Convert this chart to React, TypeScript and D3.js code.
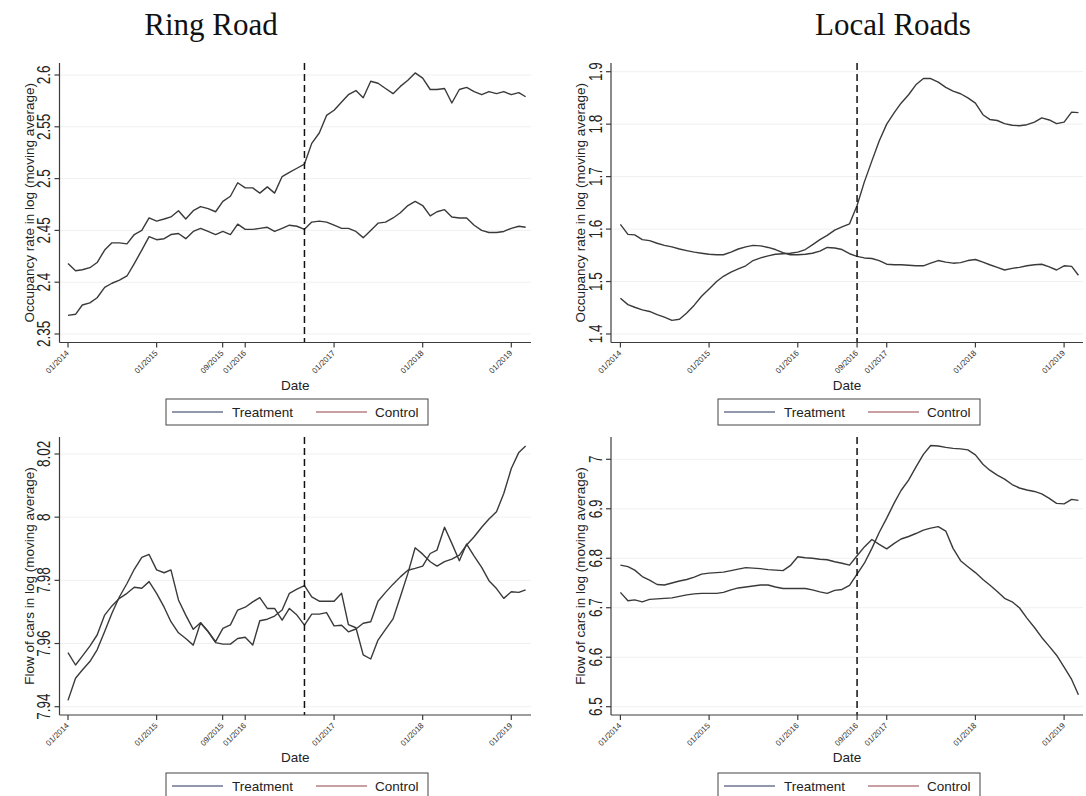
import React from 'react';
import * as d3 from 'd3';

// ---------- DATA ----------
const startMonth = new Date(2014, 0, 1);
const nMonths = 63; // 01/2014 .. 03/2019

const ringOccTreat = [2.418,2.411,2.412,2.414,2.419,2.431,2.438,2.438,2.437,2.446,
  2.450,2.462,2.459,2.461,2.463,2.469,2.461,2.469,2.473,2.471,
  2.468,2.478,2.483,2.496,2.491,2.491,2.486,2.492,2.486,2.502,
  2.506,2.510,2.514,2.534,2.544,2.561,2.566,2.574,2.581,2.585,
  2.578,2.594,2.592,2.587,2.582,2.589,2.595,2.602,2.597,2.586,
  2.586,2.587,2.573,2.586,2.588,2.584,2.581,2.584,2.582,2.584,
  2.581,2.583,2.579];
const ringOccCtrl = [2.368,2.369,2.378,2.380,2.385,2.395,2.399,2.402,2.406,2.418,
  2.431,2.444,2.441,2.442,2.446,2.447,2.442,2.449,2.452,2.449,
  2.446,2.449,2.446,2.456,2.451,2.451,2.452,2.453,2.449,2.452,
  2.455,2.454,2.451,2.458,2.459,2.458,2.455,2.452,2.452,2.449,
  2.443,2.450,2.457,2.458,2.462,2.467,2.474,2.478,2.474,2.464,
  2.468,2.470,2.463,2.462,2.462,2.455,2.450,2.448,2.448,2.449,
  2.452,2.454,2.453];
const localOccTreat = [1.468,1.456,1.451,1.446,1.443,1.437,1.432,1.426,1.428,1.440,
  1.455,1.472,1.486,1.500,1.510,1.518,1.524,1.530,1.540,1.545,
  1.549,1.552,1.553,1.554,1.556,1.561,1.570,1.580,1.588,1.598,
  1.604,1.610,1.645,1.690,1.730,1.768,1.800,1.822,1.840,1.856,
  1.875,1.887,1.887,1.880,1.870,1.863,1.858,1.850,1.840,1.818,
  1.809,1.807,1.801,1.798,1.797,1.799,1.804,1.812,1.808,1.801,
  1.804,1.823,1.822];
const localOccCtrl = [1.609,1.590,1.589,1.580,1.578,1.573,1.569,1.566,1.562,1.559,
  1.556,1.554,1.552,1.551,1.551,1.556,1.562,1.566,1.569,1.568,
  1.565,1.561,1.555,1.551,1.551,1.552,1.554,1.558,1.565,1.564,
  1.561,1.553,1.548,1.545,1.544,1.540,1.533,1.532,1.532,1.531,
  1.530,1.530,1.535,1.540,1.537,1.535,1.536,1.540,1.542,1.537,
  1.532,1.527,1.522,1.525,1.527,1.530,1.532,1.533,1.528,1.522,
  1.530,1.529,1.512];
const ringFlowTreat = [7.9571,7.9532,7.956,7.9592,7.9627,7.969,7.9719,7.9743,7.9759,7.9778,
  7.9775,7.9796,7.9759,7.9715,7.9669,7.9634,7.9616,7.9595,7.9666,7.9638,
  7.9603,7.9598,7.9598,7.9616,7.962,7.9595,7.9672,7.9677,7.9687,7.9706,
  7.9759,7.9772,7.9783,7.9748,7.9734,7.9734,7.9734,7.9759,7.966,7.965,
  7.9564,7.9551,7.9611,7.9645,7.9678,7.9748,7.9822,7.9903,7.9883,7.9859,
  7.9845,7.9859,7.9867,7.988,7.9912,7.9938,7.9968,7.9994,8.0017,8.0075,
  8.0154,8.0205,8.0225];
const ringFlowCtrl = [7.942,7.949,7.9516,7.9543,7.958,7.9638,7.9696,7.9748,7.979,7.9835,
  7.9873,7.9882,7.9833,7.9824,7.9833,7.9738,7.969,7.9645,7.9666,7.9638,
  7.9606,7.9648,7.9659,7.9706,7.9715,7.9732,7.9745,7.9711,7.9711,7.9674,
  7.9711,7.969,7.9658,7.9693,7.9693,7.9698,7.9656,7.9658,7.9637,7.9646,
  7.9664,7.9669,7.9734,7.9762,7.9788,7.9811,7.9832,7.9838,7.9845,7.9885,
  7.9896,7.9968,7.9917,7.9862,7.9915,7.9877,7.9841,7.9799,7.9774,7.9743,
  7.9764,7.9762,7.977];
const localFlowTreat = [6.731,6.714,6.716,6.712,6.717,6.718,6.719,6.720,6.723,6.726,
  6.728,6.729,6.729,6.729,6.731,6.736,6.740,6.742,6.744,6.746,
  6.746,6.742,6.739,6.739,6.739,6.739,6.736,6.732,6.729,6.735,
  6.737,6.745,6.768,6.790,6.820,6.852,6.881,6.912,6.937,6.958,
  6.984,7.010,7.028,7.027,7.024,7.022,7.021,7.019,7.009,6.990,
  6.978,6.968,6.960,6.949,6.942,6.938,6.935,6.930,6.921,6.911,
  6.910,6.919,6.917];
const localFlowCtrl = [6.786,6.783,6.776,6.763,6.756,6.747,6.746,6.750,6.754,6.757,
  6.762,6.768,6.770,6.771,6.772,6.775,6.778,6.781,6.780,6.779,
  6.777,6.776,6.775,6.785,6.803,6.801,6.800,6.798,6.797,6.793,
  6.790,6.786,6.805,6.823,6.838,6.828,6.819,6.830,6.839,6.844,
  6.850,6.857,6.861,6.864,6.855,6.820,6.795,6.783,6.771,6.757,
  6.746,6.733,6.719,6.712,6.700,6.679,6.660,6.640,6.622,6.604,
  6.580,6.555,6.524];

const ringOccTicks = [2.35, 2.4, 2.45, 2.5, 2.55, 2.6];
const ringOccTickLabels = ['2.35', '2.4', '2.45', '2.5', '2.55', '2.6'];
const localOccTicks = [1.4, 1.5, 1.6, 1.7, 1.8, 1.9];
const localOccTickLabels = ['1.4', '1.5', '1.6', '1.7', '1.8', '1.9'];
const ringFlowTicks = [7.94, 7.96, 7.98, 8.0, 8.02];
const ringFlowTickLabels = ['7.94', '7.96', '7.98', '8', '8.02'];
const localFlowTicks = [6.5, 6.6, 6.7, 6.8, 6.9, 7.0];
const localFlowTickLabels = ['6.5', '6.6', '6.7', '6.8', '6.9', '7'];

const ringXTicks = [new Date(2014,0,1), new Date(2015,0,1), new Date(2015,8,30), new Date(2016,0,1), new Date(2017,0,1), new Date(2018,0,1), new Date(2019,0,1)];
const ringXTickLabels = ['01/2014','01/2015','09/2015','01/2016','01/2017','01/2018','01/2019'];
const localXTicks = [new Date(2014,0,1), new Date(2015,0,1), new Date(2016,0,1), new Date(2016,8,1), new Date(2017,0,1), new Date(2018,0,1), new Date(2019,0,1)];
const localXTickLabels = ['01/2014','01/2015','01/2016','09/2016','01/2017','01/2018','01/2019'];

const policyDate = new Date(2016, 8, 1);
const xDomain = [new Date(2014,0,1), new Date(2019,0,1)];
const seriesNames = ['Treatment', 'Control'];
const titles = ['Ring Road', 'Local Roads'];
const yTitles = ['Occupancy rate in log (moving average)', 'Flow of cars in log (moving average)'];

// ---------- LAYOUT ----------
const SANS = '"Liberation Sans", Arial, Helvetica, sans-serif';
const SERIF = '"Liberation Serif", "DejaVu Serif", serif';
const LINE = '#3a3a3a';
const AX = '#3c3c3c';

const dates = d3.range(nMonths).map(i => d3.timeMonth.offset(startMonth, i));

type PanelCfg = {
  treat: number[]; ctrl: number[];
  yTicks: number[]; yTickLabels: string[]; yDom: [number, number]; yRng: [number, number];
  xTicks: Date[]; xTickLabels: string[]; xRng: [number, number];
  axisX: number; right: number; top: number; bottom: number;
  yTitle: string; tickLabelX: number; titleX: number;
  legendX: number; legendY: number;
};

const panels: PanelCfg[] = [
  { treat: ringOccTreat, ctrl: ringOccCtrl, yTicks: ringOccTicks, yTickLabels: ringOccTickLabels,
    yDom: [2.35, 2.6], yRng: [334, 75], xTicks: ringXTicks, xTickLabels: ringXTickLabels, xRng: [68, 511.3],
    axisX: 59.5, right: 531, top: 63, bottom: 342.5, yTitle: yTitles[0], tickLabelX: 43.5, titleX: 29.5,
    legendX: 166, legendY: 399 },
  { treat: localOccTreat, ctrl: localOccCtrl, yTicks: localOccTicks, yTickLabels: localOccTickLabels,
    yDom: [1.4, 1.9], yRng: [334, 71.7], xTicks: localXTicks, xTickLabels: localXTickLabels, xRng: [620.4, 1064.1],
    axisX: 611, right: 1083, top: 63, bottom: 342.5, yTitle: yTitles[0], tickLabelX: 595, titleX: 580.5,
    legendX: 718, legendY: 399 },
  { treat: ringFlowTreat, ctrl: ringFlowCtrl, yTicks: ringFlowTicks, yTickLabels: ringFlowTickLabels,
    yDom: [7.94, 8.02], yRng: [706.7, 454], xTicks: ringXTicks, xTickLabels: ringXTickLabels, xRng: [68, 511.3],
    axisX: 59.5, right: 531, top: 437, bottom: 715, yTitle: yTitles[1], tickLabelX: 43.5, titleX: 29.5,
    legendX: 166, legendY: 773 },
  { treat: localFlowTreat, ctrl: localFlowCtrl, yTicks: localFlowTicks, yTickLabels: localFlowTickLabels,
    yDom: [6.5, 7.0], yRng: [706.7, 459.3], xTicks: localXTicks, xTickLabels: localXTickLabels, xRng: [620.4, 1064.1],
    axisX: 611, right: 1083, top: 437, bottom: 715, yTitle: yTitles[1], tickLabelX: 595, titleX: 580.5,
    legendX: 718, legendY: 773 },
];

function Panel({ p }: { p: PanelCfg }) {
  const x = d3.scaleTime().domain(xDomain).range(p.xRng);
  const y = d3.scaleLinear().domain(p.yDom).range(p.yRng);
  const line = d3.line<number>().x((_, i) => x(dates[i])).y(v => y(v));
  const cx = (p.axisX + p.right) / 2;
  const cy = (p.top + p.bottom) / 2;
  const lx = p.legendX, ly = p.legendY;
  return (
    <g>
      {p.yTicks.map((t, i) => (
        <line key={'g' + i} x1={p.axisX} x2={p.right} y1={y(t)} y2={y(t)} stroke="#f0f0f0" strokeWidth={1} />
      ))}
      <path d={line(p.treat) || ''} fill="none" stroke={LINE} strokeWidth={1.4} strokeLinejoin="round" />
      <path d={line(p.ctrl) || ''} fill="none" stroke={LINE} strokeWidth={1.4} strokeLinejoin="round" />
      <line x1={x(policyDate)} x2={x(policyDate)} y1={p.top} y2={p.bottom} stroke="#111" strokeWidth={1.5} strokeDasharray="7,4" />
      {/* axes */}
      <line x1={p.axisX} x2={p.axisX} y1={p.top} y2={p.bottom} stroke={AX} strokeWidth={1.2} />
      <line x1={p.axisX} x2={p.right} y1={p.bottom} y2={p.bottom} stroke={AX} strokeWidth={1.2} />
      {p.yTicks.map((t, i) => (
        <g key={'y' + i}>
          <line x1={p.axisX - 5} x2={p.axisX} y1={y(t)} y2={y(t)} stroke={AX} strokeWidth={1.2} />
          <text transform={`translate(${p.tickLabelX},${y(t)}) rotate(-90) scale(1,1.35)`} textAnchor="middle" dy="0.36em"
            fontFamily={SANS} fontSize={13.5} fill="#222">{p.yTickLabels[i]}</text>
        </g>
      ))}
      {p.xTicks.map((t, i) => (
        <g key={'x' + i}>
          <line x1={x(t)} x2={x(t)} y1={p.bottom} y2={p.bottom + 5} stroke={AX} strokeWidth={1.2} />
          <text transform={`translate(${x(t) + 1.5},${p.bottom + 11}) rotate(-45)`} textAnchor="end"
            fontFamily={SANS} fontSize={8} fill="#333">{p.xTickLabels[i]}</text>
        </g>
      ))}
      <text transform={`translate(${p.titleX},${cy}) rotate(-90)`} textAnchor="middle" dy="0.36em"
        fontFamily={SANS} fontSize={13.5} fill="#222">{p.yTitle}</text>
      <text x={cx} y={p.bottom + 47} textAnchor="middle" fontFamily={SANS} fontSize={13.5} fill="#222">Date</text>
      {/* legend */}
      <rect x={lx} y={ly} width={262} height={26} fill="#fff" stroke="#444" strokeWidth={1} />
      <line x1={lx + 6} x2={lx + 57} y1={ly + 13} y2={ly + 13} stroke="#27305e" strokeWidth={1.2} />
      <text x={lx + 66} y={ly + 13} dy="0.36em" fontFamily={SANS} fontSize={13.5} fill="#222">{seriesNames[0]}</text>
      <line x1={lx + 150} x2={lx + 201} y1={ly + 13} y2={ly + 13} stroke="#93404a" strokeWidth={1.2} />
      <text x={lx + 209} y={ly + 13} dy="0.36em" fontFamily={SANS} fontSize={13.5} fill="#222">{seriesNames[1]}</text>
    </g>
  );
}

export default function App() {
  return (
    <div style={{ position: 'fixed', left: 0, top: 0 }}>
      <svg width={1086} height={796} style={{ display: 'block', background: '#fff' }}>
        <rect width={1086} height={796} fill="#fff" />
        <text x={211} y={35} textAnchor="middle" fontFamily={SERIF} fontSize={31} fill="#111">{titles[0]}</text>
        <text x={893} y={35} textAnchor="middle" fontFamily={SERIF} fontSize={31} fill="#111">{titles[1]}</text>
        {panels.map((p, i) => <Panel key={i} p={p} />)}
      </svg>
    </div>
  );
}
